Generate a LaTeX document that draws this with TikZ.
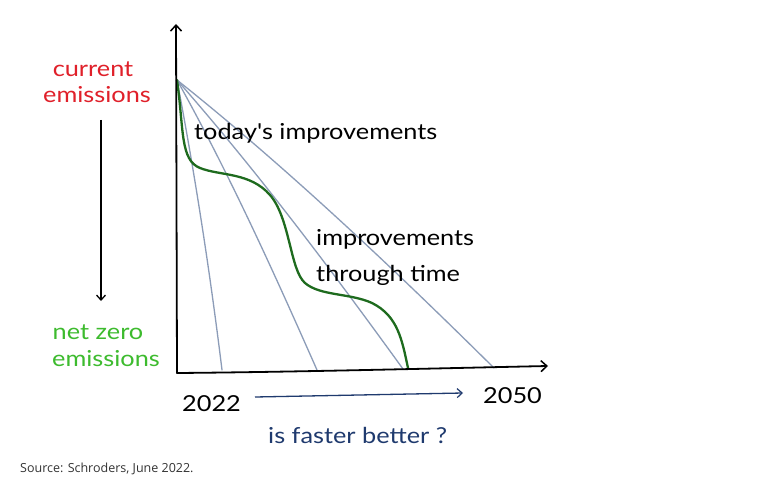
\documentclass[tikz,border=0pt]{standalone}
\usepackage{fontspec}
\setmainfont{Lato}
\newfontfamily\handA[FakeStretch=1.15]{Lato}
\newfontfamily\handB[FakeStretch=1.15]{Lato}
\newfontfamily\srcfont{Open Sans}
\usetikzlibrary{arrows.meta}
\definecolor{hred}{HTML}{E0202A}
\definecolor{hgreen}{HTML}{3DBB2E}
\definecolor{dgreen}{HTML}{1E6B1E}
\definecolor{slate}{HTML}{8C9CB8}
\definecolor{navy}{HTML}{1F3A6E}
\tikzset{
  axis/.style={line width=1.8pt, black, line cap=round, -{Straight Barb[length=6pt,width=11pt,line width=1.5pt]}},
  path1/.style={line width=1.3pt, slate, line cap=round},
  greencurve/.style={line width=2.3pt, dgreen, line cap=round},
  handa/.style={font=\handA\fontsize{22}{26}\selectfont, inner sep=0pt},
  handb/.style={font=\handB\fontsize{22}{26}\selectfont, inner sep=0pt},
}
\begin{document}
\begin{tikzpicture}[x=1pt,y=-1pt]
\useasboundingbox[fill=white] (0,0) rectangle (770,486);
% coordinates
\coordinate (O) at (177,80);
\coordinate (corner) at (177,373);
\coordinate (ytop) at (176,24);
\coordinate (xend) at (548,366);
\coordinate (e1) at (222,370);
\coordinate (e2) at (317,370);
\coordinate (e3) at (403,369);
\coordinate (e4) at (494,368);
% slate lines
\draw[path1] (O) .. controls (195,175) and (210,272) .. (e1);
\draw[path1] (O) .. controls (230,175) and (275,275) .. (e2);
\draw[path1] (O) .. controls (258,172) and (335,275) .. (e3);
\draw[path1] (O) .. controls (290,170) and (400,275) .. (e4);
% green curve
\draw[greencurve] (O) .. controls (184,130) and (180,160) .. (200,168)
  .. controls (220,176) and (250,172) .. (270,195)
  .. controls (290,218) and (290,270) .. (305,283)
  .. controls (320,296) and (350,293) .. (372,303)
  .. controls (398,316) and (402,340) .. (408,368);
% axes
\draw[axis] (corner) -- (ytop);
\draw[axis] (corner) .. controls (300,372) and (450,368) .. (xend);
% left arrow
\coordinate (dtop) at (101,120);
\coordinate (dbot) at (101,301);
\draw[line width=1.5pt, -{Straight Barb[length=5pt,width=9pt,line width=1.3pt]}] (dtop) -- (dbot);
% labels
\node[handa, hred, anchor=base] (cur1) at (93,77) {current};
\node[handa, hred, anchor=base] (cur2) at (97,103) {emissions};
\node[handa, hgreen, anchor=base] (nz1) at (98,339) {net zero};
\node[handa, hgreen, anchor=base] (nz2) at (106,366) {emissions};
\node[handb, black, anchor=base west] (today) at (194,140) {today's improvements};
\node[handb, black, anchor=base west] (itt1) at (316,245) {improvements};
\node[handb, black, anchor=base west] (itt2) at (316,281) {through time};
\node[handb, black, anchor=base west] (y1) at (182,411) {2022};
\node[handb, black, anchor=base west] (y2) at (483,403) {2050};
\coordinate (a1) at (255,397);
\coordinate (a2) at (463,393);
\draw[navy, line width=1.3pt, -{Straight Barb[length=5pt,width=9pt,line width=1.2pt]}] (a1) -- (a2);
\node[handb, navy, anchor=base west] (q) at (268,443) {is faster better ?};
\node[font=\srcfont\fontsize{12.5}{14}\selectfont, text=black!80, anchor=base west, inner sep=0pt] (src) at (20,472) {Source: Schroders, June 2022.};
\end{tikzpicture}
\end{document}
